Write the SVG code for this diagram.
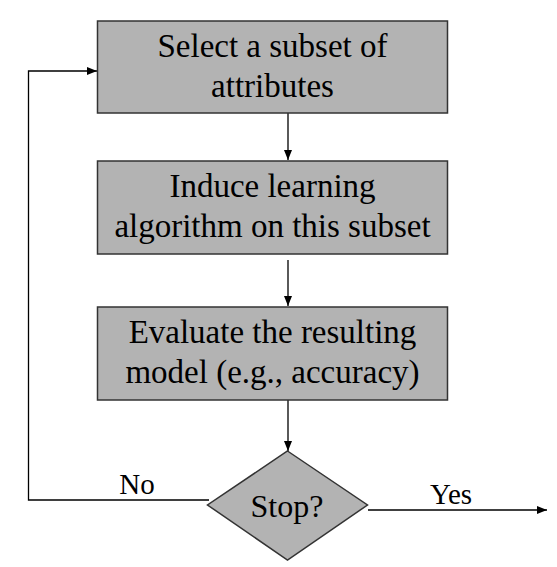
<svg xmlns="http://www.w3.org/2000/svg" width="557" height="567" viewBox="0 0 557 567">
<style>
.box{fill:#b3b3b3;stroke:#333;stroke-width:1.5}
text{font-family:'Liberation Serif','Times New Roman',Times,'DejaVu Serif',serif;font-size:33px;fill:#000;text-anchor:middle}
.lbl{font-size:29px}
.c{fill:none;stroke:#000;stroke-width:1.3}
</style>
<defs>
<marker id="ah" markerWidth="10" markerHeight="8" refX="10" refY="4" orient="auto" markerUnits="userSpaceOnUse">
<path d="M0,0 L10,4 L0,8 Z" fill="#000"/>
</marker>
</defs>
<rect width="557" height="567" fill="#fff"/>
<g id="connectors">
<path class="c" d="M288,113 V160" marker-end="url(#ah)"/>
<path class="c" d="M288,260 V306" marker-end="url(#ah)"/>
<path class="c" d="M288,400 V451" marker-end="url(#ah)"/>
<path class="c" d="M209,500 H28.5 V71 H97" marker-end="url(#ah)"/>
<path class="c" d="M368,510 H547" marker-end="url(#ah)"/>
<text class="lbl" x="137" y="494" font-family="Liberation Serif, serif">No</text>
<text class="lbl" x="451" y="504" font-family="Liberation Serif, serif">Yes</text>
</g>
<g id="select">
<rect class="box" x="97.5" y="21" width="350" height="92"/>
<text x="272.5" y="57" font-family="Liberation Serif, serif">Select a subset of</text>
<text x="272.5" y="97" font-family="Liberation Serif, serif">attributes</text>
</g>
<g id="induce">
<rect class="box" x="97.5" y="161" width="350" height="93"/>
<text x="272.5" y="197" font-family="Liberation Serif, serif">Induce learning</text>
<text x="272.5" y="237" font-family="Liberation Serif, serif">algorithm on this subset</text>
</g>
<g id="evaluate">
<rect class="box" x="97.5" y="307" width="350" height="93"/>
<text x="272.5" y="343" font-family="Liberation Serif, serif">Evaluate the resulting</text>
<text x="272.5" y="383" font-family="Liberation Serif, serif">model (e.g., accuracy)</text>
</g>
<g id="stop">
<polygon class="box" points="287.5,451 367.5,505 287.5,560 207.5,505"/>
<text x="287" y="517" style="font-size:32px" font-family="Liberation Serif, serif">Stop?</text>
</g>
</svg>
